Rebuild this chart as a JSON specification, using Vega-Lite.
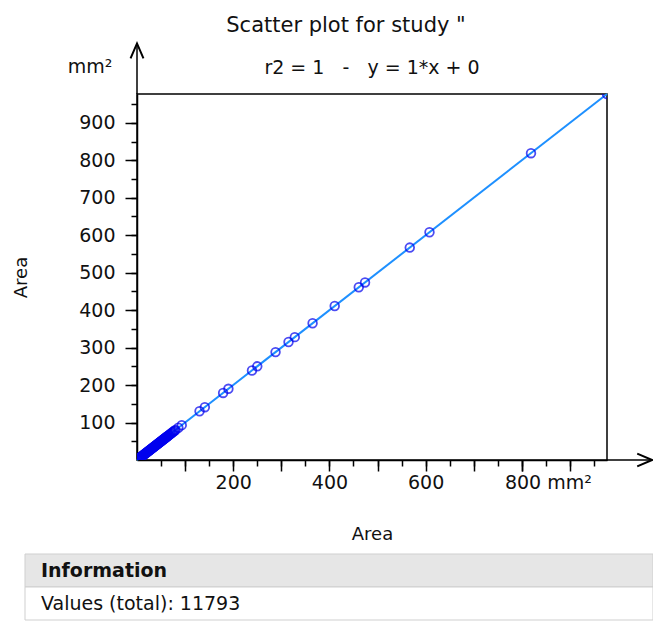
{
  "$schema": "https://vega.github.io/schema/vega-lite/v6.json",
  "padding": {"left": 11, "top": 14, "right": 0, "bottom": 0},
  "columns": 1,
  "align": "none",
  "spacing": 9,
  "config": {
    "font": "DejaVu Sans",
    "view": {"stroke": null},
    "axis": {"grid": false, "domainColor": "#000000", "domainWidth": 1.5, "tickColor": "#000000", "tickWidth": 1.5, "labelColor": "#111111", "titleColor": "#111111", "labelFontSize": 19, "titleFontSize": 18, "titleFontWeight": "normal", "labelOverlap": false, "labelFlush": false, "labelBound": false}
  },
  "concat": [
    {
      "width": 470,
      "height": 366,
      "view": {"stroke": "#000000", "strokeWidth": 1.5},
      "title": {"text": "Scatter plot for study \"", "anchor": "middle", "frame": "group", "dx": -26, "fontSize": 21, "fontWeight": "normal", "color": "#111111", "offset": 3},
      "resolve": {"axis": {"x": "independent", "y": "independent"}},
      "layer": [
        {
          "data": {"values": [{"Area_x": 0, "Area_y": 0}, {"Area_x": 977, "Area_y": 977}]},
          "mark": {"type": "line", "color": "#1e90ff", "strokeWidth": 2},
          "encoding": {
            "x": {"field": "Area_x", "type": "quantitative", "scale": {"domain": [0, 977], "nice": false, "zero": true},
              "axis": {"orient": "bottom", "title": null, "values": [50,100,150,200,250,300,350,400,450,500,550,600,650,700,750,800,850,900,950], "tickSize": 6, "labels": false, "domain": true}},
            "y": {"field": "Area_y", "type": "quantitative", "scale": {"domain": [0, 977], "nice": false, "zero": true},
              "axis": {"orient": "left", "title": null, "values": [50,100,150,200,250,300,350,400,450,500,550,600,650,700,750,800,850,900,950], "tickSize": 6, "labels": false, "domain": true}}
          }
        },
        {
          "data": {"values": [
            {"Area_x": 1, "Area_y": 1}, {"Area_x": 2, "Area_y": 2}, {"Area_x": 2.5, "Area_y": 2.5}, {"Area_x": 3, "Area_y": 3},
            {"Area_x": 4, "Area_y": 4}, {"Area_x": 4.5, "Area_y": 4.5}, {"Area_x": 5, "Area_y": 5}, {"Area_x": 6, "Area_y": 6},
            {"Area_x": 7, "Area_y": 7}, {"Area_x": 7.5, "Area_y": 7.5}, {"Area_x": 8, "Area_y": 8}, {"Area_x": 9, "Area_y": 9},
            {"Area_x": 10, "Area_y": 10}, {"Area_x": 11, "Area_y": 11}, {"Area_x": 12, "Area_y": 12}, {"Area_x": 13, "Area_y": 13},
            {"Area_x": 14, "Area_y": 14}, {"Area_x": 15, "Area_y": 15}, {"Area_x": 16, "Area_y": 16}, {"Area_x": 17, "Area_y": 17},
            {"Area_x": 18, "Area_y": 18}, {"Area_x": 19, "Area_y": 19}, {"Area_x": 20, "Area_y": 20}, {"Area_x": 21, "Area_y": 21},
            {"Area_x": 22, "Area_y": 22}, {"Area_x": 23, "Area_y": 23}, {"Area_x": 24, "Area_y": 24}, {"Area_x": 25, "Area_y": 25},
            {"Area_x": 26, "Area_y": 26}, {"Area_x": 27, "Area_y": 27}, {"Area_x": 28, "Area_y": 28}, {"Area_x": 29, "Area_y": 29},
            {"Area_x": 30, "Area_y": 30}, {"Area_x": 31, "Area_y": 31}, {"Area_x": 32, "Area_y": 32}, {"Area_x": 33, "Area_y": 33},
            {"Area_x": 34, "Area_y": 34}, {"Area_x": 35, "Area_y": 35}, {"Area_x": 36, "Area_y": 36}, {"Area_x": 37, "Area_y": 37},
            {"Area_x": 38, "Area_y": 38}, {"Area_x": 39, "Area_y": 39}, {"Area_x": 40, "Area_y": 40}, {"Area_x": 41, "Area_y": 41},
            {"Area_x": 42, "Area_y": 42}, {"Area_x": 43, "Area_y": 43}, {"Area_x": 44, "Area_y": 44}, {"Area_x": 45, "Area_y": 45},
            {"Area_x": 46, "Area_y": 46}, {"Area_x": 47, "Area_y": 47}, {"Area_x": 48, "Area_y": 48}, {"Area_x": 49, "Area_y": 49},
            {"Area_x": 50, "Area_y": 50}, {"Area_x": 51, "Area_y": 51}, {"Area_x": 52, "Area_y": 52}, {"Area_x": 53, "Area_y": 53},
            {"Area_x": 54, "Area_y": 54}, {"Area_x": 55, "Area_y": 55}, {"Area_x": 56, "Area_y": 56}, {"Area_x": 57, "Area_y": 57},
            {"Area_x": 58, "Area_y": 58}, {"Area_x": 59, "Area_y": 59}, {"Area_x": 60, "Area_y": 60}, {"Area_x": 61, "Area_y": 61},
            {"Area_x": 62, "Area_y": 62}, {"Area_x": 63, "Area_y": 63}, {"Area_x": 64, "Area_y": 64}, {"Area_x": 66, "Area_y": 66},
            {"Area_x": 67, "Area_y": 67}, {"Area_x": 69, "Area_y": 69}, {"Area_x": 70, "Area_y": 70}, {"Area_x": 72, "Area_y": 72},
            {"Area_x": 74, "Area_y": 74}, {"Area_x": 76, "Area_y": 76}, {"Area_x": 78, "Area_y": 78}, {"Area_x": 80, "Area_y": 80},
            {"Area_x": 86, "Area_y": 86}, {"Area_x": 93, "Area_y": 93}, {"Area_x": 130, "Area_y": 130}, {"Area_x": 141, "Area_y": 141},
            {"Area_x": 179, "Area_y": 179}, {"Area_x": 190, "Area_y": 190}, {"Area_x": 239, "Area_y": 239}, {"Area_x": 250, "Area_y": 250},
            {"Area_x": 288, "Area_y": 288}, {"Area_x": 315, "Area_y": 315}, {"Area_x": 328, "Area_y": 328}, {"Area_x": 365, "Area_y": 365},
            {"Area_x": 411, "Area_y": 411}, {"Area_x": 461, "Area_y": 461}, {"Area_x": 474, "Area_y": 474}, {"Area_x": 567, "Area_y": 567},
            {"Area_x": 608, "Area_y": 608}, {"Area_x": 819, "Area_y": 819}, {"Area_x": 977, "Area_y": 977}
          ]},
          "mark": {"type": "point", "shape": "circle", "filled": false, "color": "#0000ee", "strokeWidth": 1.8, "size": 75, "clip": true},
          "encoding": {
            "x": {"field": "Area_x", "type": "quantitative",
              "axis": {"orient": "bottom", "title": "Area", "values": [100,200,300,400,500,600,700,800,900], "tickSize": 11, "domain": false,
                "labelExpr": "datum.value === 800 ? '' : (datum.value % 200 === 0 ? datum.label : '')",
                "labelPadding": 2, "titlePadding": 33}},
            "y": {"field": "Area_y", "type": "quantitative",
              "axis": {"orient": "left", "title": "Area", "values": [100,200,300,400,500,600,700,800,900], "tickSize": 12, "domain": false,
                "labelPadding": 10, "titlePadding": 48}}
          }
        },
        {
          "data": {"values": [{}]},
          "mark": {"type": "rule", "color": "#000000", "strokeWidth": 1.5},
          "encoding": {
            "x": {"datum": 977, "axis": {"orient": "bottom", "title": null, "values": [800], "tickSize": 11, "domain": false, "labelExpr": "'800 mm²'", "labelOffset": 26, "labelPadding": 2}},
            "x2": {"datum": 1071},
            "y": {"datum": 0, "axis": null}
          }
        },
        {
          "data": {"values": [{}]},
          "mark": {"type": "rule", "color": "#000000", "strokeWidth": 1.5},
          "encoding": {"x": {"datum": 0, "axis": null}, "y": {"datum": 977, "axis": null}, "y2": {"datum": 1112}}
        },
        {
          "data": {"values": [{}]},
          "mark": {"type": "point", "shape": "M-0.43,1L0,0L0.43,1", "filled": false, "color": "#000000", "strokeWidth": 2, "size": 900, "opacity": 1},
          "encoding": {"x": {"datum": 0, "axis": null}, "y": {"datum": 1112, "axis": null}}
        },
        {
          "data": {"values": [{}]},
          "mark": {"type": "point", "shape": "M-1,-0.43L0,0L-1,0.43", "filled": false, "color": "#000000", "strokeWidth": 2, "size": 900, "opacity": 1},
          "encoding": {"x": {"datum": 1071, "axis": null}, "y": {"datum": 0, "axis": null}}
        },
        {
          "data": {"values": [{}]},
          "mark": {"type": "text", "text": "mm²", "fontSize": 19, "color": "#111111", "align": "center", "baseline": "middle", "dx": -47, "dy": -27},
          "encoding": {"x": {"datum": 0, "axis": null}, "y": {"datum": 977, "axis": null}}
        },
        {
          "data": {"values": [{}]},
          "mark": {"type": "text", "text": "r2 = 1\u00a0\u00a0 -\u00a0\u00a0 y = 1*x + 0", "fontSize": 19, "color": "#111111", "align": "center", "baseline": "middle", "dy": -26},
          "encoding": {"x": {"datum": 488.5, "axis": null}, "y": {"datum": 977, "axis": null}}
        }
      ]
    },
    {
      "width": 516,
      "height": 66,
      "data": {"values": [{"row": "Information", "kind": "header"}, {"row": "Values (total): 11793", "kind": "body"}]},
      "encoding": {"y": {"field": "row", "type": "nominal", "sort": null, "axis": null, "scale": {"paddingInner": 0, "paddingOuter": 0}}},
      "layer": [
        {
          "mark": {"type": "rect", "stroke": "#cfcfcf", "strokeWidth": 1, "xOffset": -112},
          "encoding": {
            "x": {"value": 0},
            "x2": {"value": "width"},
            "fill": {"field": "kind", "type": "nominal", "scale": {"domain": ["header", "body"], "range": ["#e6e6e6", "#ffffff"]}, "legend": null}
          }
        },
        {
          "transform": [{"filter": "datum.kind === 'header'"}],
          "mark": {"type": "text", "align": "left", "baseline": "middle", "fontWeight": "bold", "fontSize": 19, "x": 0, "dx": -96, "color": "#111111"},
          "encoding": {"text": {"field": "row"}}
        },
        {
          "transform": [{"filter": "datum.kind === 'body'"}],
          "mark": {"type": "text", "align": "left", "baseline": "middle", "fontSize": 19, "x": 0, "dx": -96, "color": "#111111"},
          "encoding": {"text": {"field": "row"}}
        }
      ]
    }
  ]
}
